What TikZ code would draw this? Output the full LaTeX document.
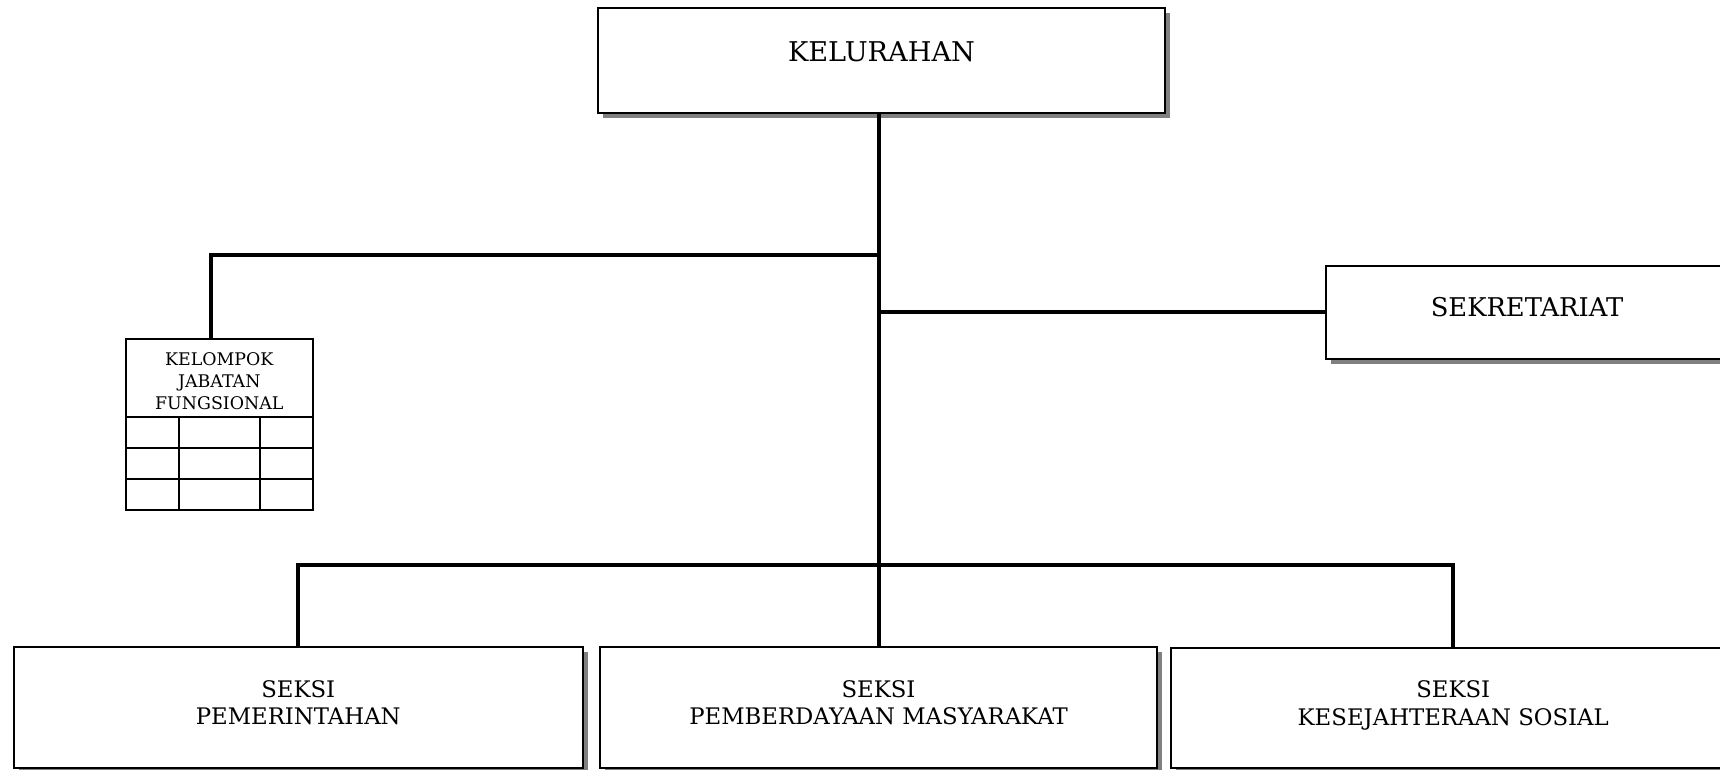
\documentclass[tikz,border=0pt]{standalone}
\usepackage{fontspec}
\setmainfont{DejaVu Serif}
\usetikzlibrary{shadows}
\newcommand\fontTopKel{\fontsize{27.2}{30}\selectfont}
\newcommand\fontSekKel{\fontsize{25.8}{28}\selectfont}
\newcommand\fontBigKel{\fontsize{22.8}{27.5}\selectfont}
\newcommand\fontSmallKel{\fontsize{17.4}{22}\selectfont}
\begin{document}
\begin{tikzpicture}[x=1pt,y=-1pt,
  unitbox/.style={draw=black, line width=2pt, fill=white, rectangle, inner sep=0pt,
    align=center, font=\fontBigKel,
    drop shadow={shadow xshift=5pt, shadow yshift=-5pt, fill=black!50, opacity=1}},
  plainbox/.style={draw=black, line width=2pt, fill=white, rectangle, inner sep=0pt,
    align=center, font=\fontSmallKel},
  link/.style={draw=black, line width=4pt, line join=miter},
  gridline/.style={draw=black, line width=2pt}
]
\useasboundingbox (0,0) rectangle (1720,770);
\clip (0,0) rectangle (1720,770);

% units
\node[unitbox, font=\fontTopKel, minimum width=567pt, minimum height=105pt, text depth=18pt] (KEL) at (881.5,60.4) {KELURAHAN};
\node[unitbox, font=\fontSekKel, minimum width=402pt, minimum height=93pt, text depth=10pt] (SEK) at (1527,312.1) {SEKRETARIAT};
\node[unitbox, minimum width=568.5pt, minimum height=121pt, text depth=10pt] (SP) at (298.25,707.5) {SEKSI\\PEMERINTAHAN};
\node[unitbox, minimum width=557pt, minimum height=121pt, text depth=10pt] (SPM) at (878.5,707.5) {SEKSI\\PEMBERDAYAAN MASYARAKAT};
\node[unitbox, minimum width=565.5pt, minimum height=120pt, text depth=10pt] (SK) at (1453.25,708) {SEKSI\\KESEJAHTERAAN SOSIAL};

% functional group
\node[plainbox, minimum width=186.6pt, minimum height=78pt, text height=63pt] (KJF) at (219.3,378) {KELOMPOK\\JABATAN\\FUNGSIONAL};
\draw[gridline] (126,417) rectangle (312.6,510);
\draw[gridline] (126,447.5) -- (312.6,447.5);
\draw[gridline] (126,479.3) -- (312.6,479.3);
\draw[gridline] (178.8,417) -- (178.8,510);
\draw[gridline] (260,417) -- (260,510);

% connectors
\coordinate (jL) at (878.6,254.5);
\coordinate (kjfin) at (210.6,339);
\coordinate (bus) at (878.6,565);
\draw[link] (KEL.south -| SPM.north) -- (SPM.north);
\draw[link] (jL) -| (kjfin);
\draw[link] (SEK.west -| SPM.north) -- (SEK.west);
\draw[link] (SP.north) |- (bus) -| (SK.north);
\end{tikzpicture}
\end{document}
